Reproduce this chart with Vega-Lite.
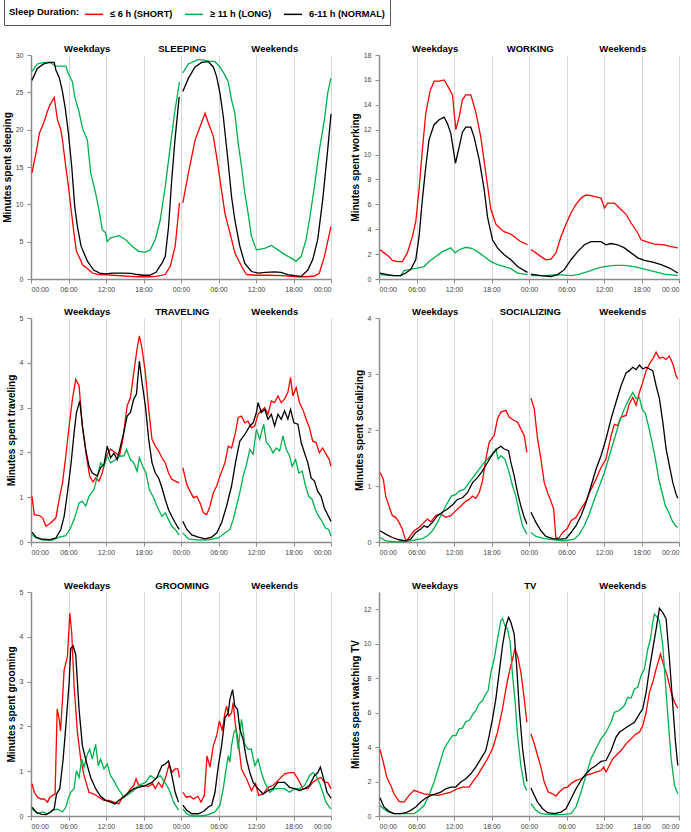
{
"$schema":"https://vega.github.io/schema/vega-lite/v6.json",
"padding":{"left":2,"top":-2,"right":0,"bottom":0},
"autosize":{"type":"pad"},
"background":"white",
"config":{
 "font":"Liberation Sans",
 "view":{"stroke":null},
 "axis":{"domainColor":"#8c8c8c","tickColor":"#8c8c8c","tickSize":4,"labelColor":"#444444","labelFontSize":7,"titleFontSize":10,"titleFontWeight":"bold","titleColor":"#000000","gridColor":"#d9d9d9","labelOverlap":false},
 "axisX":{"grid":true,"labelPadding":2,"domainWidth":1.5},
 "axisY":{"grid":false,"labelPadding":4,"titlePadding":3,"domainWidth":1.5},
 "legend":{"orient":"none","legendX":-27,"legendY":-56,"direction":"horizontal","titleOrient":"left","titleBaseline":"middle","titleFontSize":9.5,"titleFontWeight":"bold","titleColor":"#000000","titlePadding":4,"labelFontSize":9.3,"labelFontWeight":"bold","labelColor":"#000000","symbolType":"stroke","symbolSize":324,"symbolStrokeWidth":1.5,"labelOffset":6,"columnPadding":9,"strokeColor":"#555555","padding":5}
},
"datasets":{
"sl0":[
{"g":"S","h":0.16,"v":14.2},{"g":"S","h":1.01,"v":17.8},{"g":"S","h":1.33,"v":19.5},{"g":"S","h":2.02,"v":20.9},{"g":"S","h":2.65,"v":22.5},{"g":"S","h":3.02,"v":23.3},{"g":"S","h":3.71,"v":24.3},{"g":"S","h":4.24,"v":21.3},{"g":"S","h":4.77,"v":20.0},{"g":"S","h":5.04,"v":18.6},{"g":"S","h":5.57,"v":15.0},{"g":"S","h":5.99,"v":12.4},{"g":"S","h":6.36,"v":9.7},{"g":"S","h":7.0,"v":5.3},{"g":"S","h":7.27,"v":3.7},{"g":"S","h":8.01,"v":2.4},{"g":"S","h":8.22,"v":1.9},{"g":"S","h":9.02,"v":1.4},{"g":"S","h":9.81,"v":0.8},{"g":"S","h":10.87,"v":0.6},{"g":"S","h":12.04,"v":0.55},{"g":"S","h":13.0,"v":0.5},{"g":"S","h":14.0,"v":0.45},{"g":"S","h":15.0,"v":0.4},{"g":"S","h":16.0,"v":0.35},{"g":"S","h":17.0,"v":0.3},{"g":"S","h":18.83,"v":0.3},{"g":"S","h":20.0,"v":0.35},{"g":"S","h":21.48,"v":0.6},{"g":"S","h":22.28,"v":1.7},{"g":"S","h":23.07,"v":4.4},{"g":"S","h":23.76,"v":10.2},
{"g":"L","h":0.16,"v":27.8},{"g":"L","h":1.01,"v":28.8},{"g":"L","h":2.02,"v":29.0},{"g":"L","h":3.02,"v":29.0},{"g":"L","h":3.98,"v":28.5},{"g":"L","h":4.99,"v":28.5},{"g":"L","h":5.57,"v":28.5},{"g":"L","h":5.99,"v":27.5},{"g":"L","h":6.63,"v":26.4},{"g":"L","h":7.0,"v":24.4},{"g":"L","h":7.69,"v":22.4},{"g":"L","h":8.22,"v":20.2},{"g":"L","h":9.02,"v":18.6},{"g":"L","h":9.55,"v":14.2},{"g":"L","h":10.34,"v":11.5},{"g":"L","h":10.87,"v":9.3},{"g":"L","h":11.4,"v":6.6},{"g":"L","h":11.93,"v":6.2},{"g":"L","h":12.2,"v":5.0},{"g":"L","h":12.73,"v":5.5},{"g":"L","h":14.06,"v":5.8},{"g":"L","h":15.12,"v":5.3},{"g":"L","h":16.18,"v":4.4},{"g":"L","h":17.24,"v":3.7},{"g":"L","h":18.3,"v":3.6},{"g":"L","h":19.09,"v":3.9},{"g":"L","h":19.89,"v":5.3},{"g":"L","h":20.68,"v":7.9},{"g":"L","h":21.48,"v":12.4},{"g":"L","h":22.28,"v":17.7},{"g":"L","h":22.97,"v":22.2},{"g":"L","h":23.76,"v":26.4},
{"g":"N","h":0.16,"v":26.6},{"g":"N","h":1.01,"v":28.2},{"g":"N","h":2.02,"v":28.8},{"g":"N","h":3.02,"v":29.0},{"g":"N","h":3.71,"v":29.0},{"g":"N","h":3.98,"v":28.0},{"g":"N","h":4.51,"v":27.0},{"g":"N","h":4.99,"v":25.3},{"g":"N","h":5.46,"v":23.0},{"g":"N","h":5.99,"v":19.5},{"g":"N","h":6.52,"v":15.0},{"g":"N","h":7.0,"v":9.7},{"g":"N","h":7.43,"v":7.0},{"g":"N","h":8.01,"v":4.4},{"g":"N","h":9.02,"v":2.4},{"g":"N","h":10.02,"v":1.2},{"g":"N","h":11.0,"v":0.8},{"g":"N","h":12.0,"v":0.7},{"g":"N","h":13.0,"v":0.8},{"g":"N","h":14.5,"v":0.8},{"g":"N","h":16.0,"v":0.75},{"g":"N","h":17.0,"v":0.6},{"g":"N","h":18.0,"v":0.5},{"g":"N","h":19.0,"v":0.5},{"g":"N","h":20.0,"v":0.9},{"g":"N","h":21.0,"v":2.2},{"g":"N","h":21.48,"v":3.0},{"g":"N","h":22.01,"v":7.0},{"g":"N","h":22.49,"v":13.0},{"g":"N","h":23.02,"v":18.5},{"g":"N","h":23.71,"v":24.4}
],
"sl1":[
{"g":"S","h":24.29,"v":10.2},{"g":"S","h":25.19,"v":14.2},{"g":"S","h":26.25,"v":18.6},{"g":"S","h":27.05,"v":20.4},{"g":"S","h":27.85,"v":22.2},{"g":"S","h":28.38,"v":20.9},{"g":"S","h":29.17,"v":19.1},{"g":"S","h":29.7,"v":16.4},{"g":"S","h":30.23,"v":13.3},{"g":"S","h":31.03,"v":8.8},{"g":"S","h":31.82,"v":6.2},{"g":"S","h":32.62,"v":3.5},{"g":"S","h":33.68,"v":1.7},{"g":"S","h":34.48,"v":0.6},{"g":"S","h":36.0,"v":0.5},{"g":"S","h":38.0,"v":0.5},{"g":"S","h":40.0,"v":0.45},{"g":"S","h":42.7,"v":0.3},{"g":"S","h":44.0,"v":0.3},{"g":"S","h":45.35,"v":0.4},{"g":"S","h":46.14,"v":0.8},{"g":"S","h":46.94,"v":3.0},{"g":"S","h":48.0,"v":7.0},
{"g":"L","h":24.29,"v":27.6},{"g":"L","h":25.19,"v":28.8},{"g":"L","h":26.78,"v":29.4},{"g":"L","h":28.38,"v":29.2},{"g":"L","h":29.44,"v":29.1},{"g":"L","h":30.23,"v":28.4},{"g":"L","h":31.03,"v":27.3},{"g":"L","h":31.56,"v":26.4},{"g":"L","h":32.09,"v":24.0},{"g":"L","h":32.62,"v":22.2},{"g":"L","h":33.15,"v":18.2},{"g":"L","h":33.68,"v":15.1},{"g":"L","h":34.21,"v":11.5},{"g":"L","h":34.74,"v":8.8},{"g":"L","h":35.27,"v":5.7},{"g":"L","h":36.07,"v":3.9},{"g":"L","h":37.39,"v":4.1},{"g":"L","h":38.45,"v":4.5},{"g":"L","h":39.51,"v":3.9},{"g":"L","h":40.57,"v":3.3},{"g":"L","h":41.64,"v":2.8},{"g":"L","h":42.43,"v":2.4},{"g":"L","h":43.23,"v":3.0},{"g":"L","h":44.02,"v":5.3},{"g":"L","h":44.55,"v":7.9},{"g":"L","h":45.35,"v":12.4},{"g":"L","h":46.14,"v":17.3},{"g":"L","h":46.94,"v":21.3},{"g":"L","h":47.47,"v":24.9},{"g":"L","h":48.0,"v":26.9},
{"g":"N","h":24.29,"v":25.1},{"g":"N","h":25.19,"v":26.9},{"g":"N","h":26.25,"v":28.4},{"g":"N","h":27.31,"v":29.0},{"g":"N","h":28.38,"v":29.1},{"g":"N","h":29.17,"v":28.4},{"g":"N","h":29.7,"v":27.1},{"g":"N","h":30.23,"v":24.9},{"g":"N","h":30.76,"v":21.8},{"g":"N","h":31.56,"v":15.5},{"g":"N","h":32.09,"v":11.0},{"g":"N","h":32.62,"v":7.9},{"g":"N","h":33.41,"v":4.4},{"g":"N","h":34.21,"v":2.1},{"g":"N","h":35.27,"v":1.0},{"g":"N","h":36.33,"v":0.8},{"g":"N","h":37.5,"v":0.9},{"g":"N","h":39.0,"v":0.95},{"g":"N","h":40.0,"v":0.9},{"g":"N","h":41.1,"v":0.6},{"g":"N","h":42.17,"v":0.45},{"g":"N","h":43.23,"v":0.35},{"g":"N","h":44.29,"v":1.2},{"g":"N","h":45.08,"v":2.6},{"g":"N","h":45.88,"v":5.3},{"g":"N","h":46.67,"v":10.6},{"g":"N","h":47.47,"v":17.3},{"g":"N","h":48.0,"v":22.1}
],
"wk0":[
{"g":"S","h":0.16,"v":2.35},{"g":"S","h":0.8,"v":2.1},{"g":"S","h":1.6,"v":1.8},{"g":"S","h":2.14,"v":1.5},{"g":"S","h":2.94,"v":1.4},{"g":"S","h":3.74,"v":1.4},{"g":"S","h":4.54,"v":2.1},{"g":"S","h":5.34,"v":3.4},{"g":"S","h":5.88,"v":4.6},{"g":"S","h":6.41,"v":7.2},{"g":"S","h":6.94,"v":10.4},{"g":"S","h":7.48,"v":13.3},{"g":"S","h":8.17,"v":15.1},{"g":"S","h":8.81,"v":15.9},{"g":"S","h":9.62,"v":15.9},{"g":"S","h":10.42,"v":16.0},{"g":"S","h":11.22,"v":15.3},{"g":"S","h":11.75,"v":14.8},{"g":"S","h":12.29,"v":12.0},{"g":"S","h":12.82,"v":13.0},{"g":"S","h":13.35,"v":14.4},{"g":"S","h":13.89,"v":14.8},{"g":"S","h":14.69,"v":14.8},{"g":"S","h":15.49,"v":13.4},{"g":"S","h":16.29,"v":11.4},{"g":"S","h":17.09,"v":8.5},{"g":"S","h":17.9,"v":5.6},{"g":"S","h":18.7,"v":4.4},{"g":"S","h":19.5,"v":4.0},{"g":"S","h":20.03,"v":3.8},{"g":"S","h":21.1,"v":3.6},{"g":"S","h":21.9,"v":3.3},{"g":"S","h":22.7,"v":3.0},{"g":"S","h":23.77,"v":2.75},
{"g":"L","h":0.16,"v":0.35},{"g":"L","h":1.87,"v":0.27},{"g":"L","h":3.47,"v":0.27},{"g":"L","h":4.01,"v":0.67},{"g":"L","h":5.07,"v":0.8},{"g":"L","h":6.14,"v":0.88},{"g":"L","h":7.21,"v":1.0},{"g":"L","h":8.01,"v":1.4},{"g":"L","h":9.08,"v":1.8},{"g":"L","h":10.15,"v":2.2},{"g":"L","h":11.49,"v":2.5},{"g":"L","h":12.18,"v":2.1},{"g":"L","h":12.82,"v":2.35},{"g":"L","h":13.89,"v":2.55},{"g":"L","h":14.96,"v":2.45},{"g":"L","h":15.76,"v":2.2},{"g":"L","h":16.83,"v":1.8},{"g":"L","h":17.9,"v":1.4},{"g":"L","h":18.96,"v":1.15},{"g":"L","h":20.03,"v":1.0},{"g":"L","h":21.1,"v":0.83},{"g":"L","h":22.17,"v":0.48},{"g":"L","h":23.77,"v":0.35},
{"g":"N","h":0.16,"v":0.48},{"g":"N","h":1.34,"v":0.35},{"g":"N","h":2.4,"v":0.27},{"g":"N","h":3.47,"v":0.27},{"g":"N","h":4.27,"v":0.48},{"g":"N","h":5.07,"v":0.75},{"g":"N","h":5.88,"v":1.55},{"g":"N","h":6.41,"v":3.4},{"g":"N","h":6.94,"v":6.4},{"g":"N","h":7.48,"v":9.0},{"g":"N","h":8.01,"v":11.2},{"g":"N","h":8.81,"v":12.4},{"g":"N","h":9.62,"v":12.8},{"g":"N","h":10.42,"v":13.0},{"g":"N","h":10.95,"v":12.5},{"g":"N","h":11.49,"v":11.7},{"g":"N","h":12.23,"v":9.3},{"g":"N","h":12.82,"v":10.6},{"g":"N","h":13.35,"v":11.8},{"g":"N","h":13.89,"v":12.2},{"g":"N","h":14.69,"v":12.2},{"g":"N","h":15.22,"v":11.4},{"g":"N","h":16.03,"v":9.6},{"g":"N","h":16.83,"v":7.2},{"g":"N","h":17.36,"v":5.0},{"g":"N","h":18.16,"v":3.15},{"g":"N","h":18.96,"v":2.5},{"g":"N","h":20.03,"v":1.95},{"g":"N","h":21.1,"v":1.55},{"g":"N","h":22.17,"v":1.0},{"g":"N","h":23.24,"v":0.67},{"g":"N","h":23.77,"v":0.53}
],
"wk1":[
{"g":"S","h":24.31,"v":2.35},{"g":"S","h":25.11,"v":2.1},{"g":"S","h":25.91,"v":1.8},{"g":"S","h":26.71,"v":1.55},{"g":"S","h":27.51,"v":1.6},{"g":"S","h":28.31,"v":2.1},{"g":"S","h":29.11,"v":3.4},{"g":"S","h":29.91,"v":4.4},{"g":"S","h":30.72,"v":5.3},{"g":"S","h":31.52,"v":6.0},{"g":"S","h":32.32,"v":6.5},{"g":"S","h":33.12,"v":6.75},{"g":"S","h":33.92,"v":6.7},{"g":"S","h":34.72,"v":6.6},{"g":"S","h":35.52,"v":6.5},{"g":"S","h":36.06,"v":5.7},{"g":"S","h":36.59,"v":6.1},{"g":"S","h":37.66,"v":6.1},{"g":"S","h":38.46,"v":5.7},{"g":"S","h":39.53,"v":5.2},{"g":"S","h":40.33,"v":4.5},{"g":"S","h":41.4,"v":3.7},{"g":"S","h":41.93,"v":3.15},{"g":"S","h":42.74,"v":3.0},{"g":"S","h":44.07,"v":2.8},{"g":"S","h":45.67,"v":2.75},{"g":"S","h":46.74,"v":2.6},{"g":"S","h":47.81,"v":2.5},
{"g":"L","h":24.31,"v":0.27},{"g":"L","h":26.44,"v":0.27},{"g":"L","h":28.58,"v":0.35},{"g":"L","h":30.72,"v":0.27},{"g":"L","h":31.79,"v":0.35},{"g":"L","h":33.39,"v":0.6},{"g":"L","h":34.99,"v":0.88},{"g":"L","h":36.06,"v":1.0},{"g":"L","h":37.66,"v":1.1},{"g":"L","h":39.26,"v":1.1},{"g":"L","h":40.87,"v":1.0},{"g":"L","h":42.47,"v":0.8},{"g":"L","h":44.07,"v":0.6},{"g":"L","h":45.67,"v":0.4},{"g":"L","h":47.81,"v":0.27},
{"g":"N","h":24.31,"v":0.4},{"g":"N","h":25.91,"v":0.27},{"g":"N","h":27.51,"v":0.2},{"g":"N","h":28.58,"v":0.35},{"g":"N","h":29.65,"v":0.75},{"g":"N","h":30.72,"v":1.55},{"g":"N","h":31.79,"v":2.2},{"g":"N","h":32.85,"v":2.75},{"g":"N","h":33.92,"v":3.0},{"g":"N","h":35.52,"v":3.0},{"g":"N","h":36.32,"v":2.75},{"g":"N","h":37.13,"v":2.85},{"g":"N","h":38.19,"v":2.75},{"g":"N","h":39.26,"v":2.5},{"g":"N","h":40.33,"v":2.1},{"g":"N","h":41.4,"v":1.7},{"g":"N","h":42.47,"v":1.5},{"g":"N","h":43.8,"v":1.35},{"g":"N","h":45.14,"v":1.15},{"g":"N","h":46.47,"v":0.88},{"g":"N","h":47.81,"v":0.48}
],
"tr0":[
{"g":"S","h":0.16,"v":1.02},{"g":"S","h":0.53,"v":0.61},{"g":"S","h":1.33,"v":0.59},{"g":"S","h":1.86,"v":0.54},{"g":"S","h":2.39,"v":0.35},{"g":"S","h":3.18,"v":0.43},{"g":"S","h":3.98,"v":0.54},{"g":"S","h":4.51,"v":0.95},{"g":"S","h":5.04,"v":1.32},{"g":"S","h":5.57,"v":1.92},{"g":"S","h":6.1,"v":2.59},{"g":"S","h":6.63,"v":3.19},{"g":"S","h":7.16,"v":3.63},{"g":"S","h":7.69,"v":3.49},{"g":"S","h":8.22,"v":2.59},{"g":"S","h":8.86,"v":1.92},{"g":"S","h":9.39,"v":1.47},{"g":"S","h":9.92,"v":1.34},{"g":"S","h":10.34,"v":1.43},{"g":"S","h":10.87,"v":1.36},{"g":"S","h":11.4,"v":1.54},{"g":"S","h":12.04,"v":1.92},{"g":"S","h":12.73,"v":2.07},{"g":"S","h":13.52,"v":1.99},{"g":"S","h":14.16,"v":1.92},{"g":"S","h":14.69,"v":2.29},{"g":"S","h":15.38,"v":3.04},{"g":"S","h":15.91,"v":3.22},{"g":"S","h":16.44,"v":3.78},{"g":"S","h":16.97,"v":4.31},{"g":"S","h":17.34,"v":4.6},{"g":"S","h":17.77,"v":4.31},{"g":"S","h":18.3,"v":3.78},{"g":"S","h":18.83,"v":2.96},{"g":"S","h":19.36,"v":2.29},{"g":"S","h":19.89,"v":2.14},{"g":"S","h":20.42,"v":2.03},{"g":"S","h":20.95,"v":1.88},{"g":"S","h":21.48,"v":1.77},{"g":"S","h":22.01,"v":1.54},{"g":"S","h":22.54,"v":1.4},{"g":"S","h":23.07,"v":1.36},{"g":"S","h":23.71,"v":1.32},
{"g":"L","h":0.16,"v":0.16},{"g":"L","h":0.8,"v":0.09},{"g":"L","h":1.86,"v":0.04},{"g":"L","h":3.45,"v":0.04},{"g":"L","h":4.51,"v":0.11},{"g":"L","h":5.57,"v":0.14},{"g":"L","h":6.21,"v":0.28},{"g":"L","h":6.9,"v":0.5},{"g":"L","h":7.69,"v":0.87},{"g":"L","h":8.22,"v":0.91},{"g":"L","h":8.75,"v":0.8},{"g":"L","h":9.28,"v":1.02},{"g":"L","h":10.08,"v":1.17},{"g":"L","h":10.61,"v":1.47},{"g":"L","h":11.14,"v":1.77},{"g":"L","h":11.67,"v":1.69},{"g":"L","h":12.2,"v":1.92},{"g":"L","h":12.73,"v":1.77},{"g":"L","h":13.52,"v":1.84},{"g":"L","h":14.32,"v":1.92},{"g":"L","h":14.85,"v":1.92},{"g":"L","h":15.28,"v":2.07},{"g":"L","h":15.91,"v":1.84},{"g":"L","h":16.44,"v":1.77},{"g":"L","h":16.97,"v":1.58},{"g":"L","h":17.34,"v":1.88},{"g":"L","h":17.87,"v":1.69},{"g":"L","h":18.4,"v":1.54},{"g":"L","h":18.93,"v":1.17},{"g":"L","h":19.62,"v":0.99},{"g":"L","h":20.15,"v":0.8},{"g":"L","h":20.95,"v":0.57},{"g":"L","h":21.48,"v":0.65},{"g":"L","h":22.01,"v":0.5},{"g":"L","h":22.54,"v":0.35},{"g":"L","h":23.07,"v":0.28},{"g":"L","h":23.71,"v":0.16},
{"g":"N","h":0.16,"v":0.22},{"g":"N","h":0.8,"v":0.11},{"g":"N","h":1.59,"v":0.07},{"g":"N","h":2.92,"v":0.05},{"g":"N","h":3.98,"v":0.09},{"g":"N","h":4.77,"v":0.28},{"g":"N","h":5.3,"v":0.57},{"g":"N","h":5.83,"v":1.1},{"g":"N","h":6.36,"v":1.69},{"g":"N","h":6.9,"v":2.44},{"g":"N","h":7.27,"v":2.89},{"g":"N","h":7.8,"v":3.15},{"g":"N","h":8.22,"v":2.59},{"g":"N","h":8.75,"v":2.07},{"g":"N","h":9.28,"v":1.69},{"g":"N","h":9.81,"v":1.54},{"g":"N","h":10.61,"v":1.47},{"g":"N","h":11.14,"v":1.66},{"g":"N","h":11.67,"v":1.73},{"g":"N","h":12.2,"v":2.14},{"g":"N","h":12.73,"v":1.88},{"g":"N","h":13.26,"v":1.98},{"g":"N","h":13.79,"v":1.84},{"g":"N","h":14.32,"v":2.14},{"g":"N","h":14.85,"v":2.44},{"g":"N","h":15.38,"v":2.81},{"g":"N","h":15.91,"v":2.89},{"g":"N","h":16.44,"v":3.19},{"g":"N","h":16.87,"v":3.3},{"g":"N","h":17.34,"v":4.04},{"g":"N","h":17.77,"v":3.56},{"g":"N","h":18.3,"v":3.04},{"g":"N","h":18.83,"v":2.29},{"g":"N","h":19.36,"v":1.77},{"g":"N","h":19.89,"v":1.54},{"g":"N","h":20.42,"v":1.43},{"g":"N","h":20.95,"v":1.21},{"g":"N","h":21.48,"v":0.95},{"g":"N","h":22.01,"v":0.72},{"g":"N","h":22.54,"v":0.57},{"g":"N","h":23.07,"v":0.43},{"g":"N","h":23.71,"v":0.28}
],
"tr1":[
{"g":"S","h":24.29,"v":1.66},{"g":"S","h":24.93,"v":1.28},{"g":"S","h":25.46,"v":1.13},{"g":"S","h":25.99,"v":0.99},{"g":"S","h":26.52,"v":1.02},{"g":"S","h":27.05,"v":0.87},{"g":"S","h":27.58,"v":0.65},{"g":"S","h":28.11,"v":0.61},{"g":"S","h":28.64,"v":0.8},{"g":"S","h":29.17,"v":1.1},{"g":"S","h":29.7,"v":1.25},{"g":"S","h":30.23,"v":1.47},{"g":"S","h":31.03,"v":1.77},{"g":"S","h":31.56,"v":2.14},{"g":"S","h":32.09,"v":2.1},{"g":"S","h":32.72,"v":2.44},{"g":"S","h":33.15,"v":2.78},{"g":"S","h":33.68,"v":2.81},{"g":"S","h":34.21,"v":2.66},{"g":"S","h":34.74,"v":2.7},{"g":"S","h":35.27,"v":2.55},{"g":"S","h":35.8,"v":2.59},{"g":"S","h":36.33,"v":2.85},{"g":"S","h":36.86,"v":2.93},{"g":"S","h":37.39,"v":3.0},{"g":"S","h":37.92,"v":2.85},{"g":"S","h":38.45,"v":3.15},{"g":"S","h":38.98,"v":3.11},{"g":"S","h":39.51,"v":3.26},{"g":"S","h":40.04,"v":3.11},{"g":"S","h":40.57,"v":3.19},{"g":"S","h":41.1,"v":3.34},{"g":"S","h":41.53,"v":3.67},{"g":"S","h":41.9,"v":3.26},{"g":"S","h":42.43,"v":3.45},{"g":"S","h":42.96,"v":3.11},{"g":"S","h":43.49,"v":2.96},{"g":"S","h":44.02,"v":2.74},{"g":"S","h":44.55,"v":2.55},{"g":"S","h":45.08,"v":2.25},{"g":"S","h":45.61,"v":2.22},{"g":"S","h":46.14,"v":1.99},{"g":"S","h":46.67,"v":2.1},{"g":"S","h":47.2,"v":1.96},{"g":"S","h":47.73,"v":1.84},{"g":"S","h":48.0,"v":1.69},
{"g":"L","h":24.29,"v":0.2},{"g":"L","h":25.19,"v":0.07},{"g":"L","h":26.78,"v":0.04},{"g":"L","h":28.38,"v":0.05},{"g":"L","h":29.97,"v":0.09},{"g":"L","h":31.03,"v":0.2},{"g":"L","h":31.82,"v":0.28},{"g":"L","h":32.35,"v":0.5},{"g":"L","h":32.88,"v":0.8},{"g":"L","h":33.41,"v":1.1},{"g":"L","h":33.94,"v":1.47},{"g":"L","h":34.48,"v":1.73},{"g":"L","h":35.01,"v":2.07},{"g":"L","h":35.54,"v":1.96},{"g":"L","h":36.07,"v":2.52},{"g":"L","h":36.6,"v":2.29},{"g":"L","h":37.23,"v":2.63},{"g":"L","h":37.66,"v":2.22},{"g":"L","h":38.19,"v":2.14},{"g":"L","h":38.72,"v":1.99},{"g":"L","h":39.25,"v":2.1},{"g":"L","h":39.78,"v":2.03},{"g":"L","h":40.31,"v":2.37},{"g":"L","h":40.84,"v":2.07},{"g":"L","h":41.37,"v":1.92},{"g":"L","h":41.79,"v":1.69},{"g":"L","h":42.33,"v":1.84},{"g":"L","h":42.86,"v":1.54},{"g":"L","h":43.39,"v":1.58},{"g":"L","h":43.92,"v":1.25},{"g":"L","h":44.45,"v":1.02},{"g":"L","h":44.98,"v":0.95},{"g":"L","h":45.51,"v":0.72},{"g":"L","h":46.04,"v":0.57},{"g":"L","h":46.57,"v":0.46},{"g":"L","h":47.1,"v":0.31},{"g":"L","h":47.63,"v":0.28},{"g":"L","h":48.0,"v":0.13},
{"g":"N","h":24.29,"v":0.46},{"g":"N","h":24.93,"v":0.28},{"g":"N","h":25.72,"v":0.16},{"g":"N","h":26.78,"v":0.11},{"g":"N","h":27.85,"v":0.07},{"g":"N","h":28.91,"v":0.11},{"g":"N","h":29.7,"v":0.2},{"g":"N","h":30.5,"v":0.43},{"g":"N","h":31.29,"v":0.8},{"g":"N","h":32.09,"v":1.25},{"g":"N","h":32.72,"v":1.77},{"g":"N","h":33.41,"v":2.25},{"g":"N","h":34.21,"v":2.4},{"g":"N","h":35.01,"v":2.59},{"g":"N","h":35.54,"v":2.66},{"g":"N","h":36.07,"v":2.89},{"g":"N","h":36.33,"v":3.11},{"g":"N","h":36.86,"v":2.89},{"g":"N","h":37.39,"v":2.96},{"g":"N","h":37.92,"v":2.74},{"g":"N","h":38.45,"v":2.85},{"g":"N","h":38.98,"v":2.59},{"g":"N","h":39.51,"v":2.85},{"g":"N","h":40.04,"v":2.74},{"g":"N","h":40.57,"v":2.93},{"g":"N","h":41.1,"v":2.74},{"g":"N","h":41.53,"v":2.96},{"g":"N","h":42.06,"v":2.66},{"g":"N","h":42.7,"v":2.63},{"g":"N","h":43.23,"v":2.22},{"g":"N","h":43.76,"v":1.99},{"g":"N","h":44.29,"v":1.77},{"g":"N","h":44.82,"v":1.43},{"g":"N","h":45.35,"v":1.36},{"g":"N","h":45.88,"v":1.13},{"g":"N","h":46.41,"v":1.02},{"g":"N","h":46.94,"v":0.76},{"g":"N","h":47.47,"v":0.61},{"g":"N","h":48.0,"v":0.46}
],
"so0":[
{"g":"S","h":0.16,"v":1.24},{"g":"S","h":0.69,"v":1.12},{"g":"S","h":1.07,"v":0.82},{"g":"S","h":1.6,"v":0.64},{"g":"S","h":2.14,"v":0.47},{"g":"S","h":2.67,"v":0.44},{"g":"S","h":3.21,"v":0.35},{"g":"S","h":3.74,"v":0.23},{"g":"S","h":4.11,"v":0.08},{"g":"S","h":4.38,"v":0.02},{"g":"S","h":4.81,"v":0.08},{"g":"S","h":5.61,"v":0.2},{"g":"S","h":6.41,"v":0.26},{"g":"S","h":7.21,"v":0.35},{"g":"S","h":7.75,"v":0.41},{"g":"S","h":8.28,"v":0.36},{"g":"S","h":9.08,"v":0.47},{"g":"S","h":9.88,"v":0.5},{"g":"S","h":10.68,"v":0.44},{"g":"S","h":11.49,"v":0.47},{"g":"S","h":12.29,"v":0.56},{"g":"S","h":13.09,"v":0.64},{"g":"S","h":13.89,"v":0.73},{"g":"S","h":14.42,"v":0.76},{"g":"S","h":14.96,"v":0.82},{"g":"S","h":15.49,"v":0.78},{"g":"S","h":16.03,"v":0.88},{"g":"S","h":16.56,"v":1.09},{"g":"S","h":17.09,"v":1.48},{"g":"S","h":17.63,"v":1.78},{"g":"S","h":18.43,"v":1.9},{"g":"S","h":18.96,"v":2.2},{"g":"S","h":19.5,"v":2.32},{"g":"S","h":20.3,"v":2.35},{"g":"S","h":20.83,"v":2.23},{"g":"S","h":21.63,"v":2.17},{"g":"S","h":22.17,"v":2.14},{"g":"S","h":22.7,"v":2.02},{"g":"S","h":23.24,"v":1.9},{"g":"S","h":23.66,"v":1.6},
{"g":"L","h":0.16,"v":0.08},{"g":"L","h":1.07,"v":0.02},{"g":"L","h":2.94,"v":0.0},{"g":"L","h":5.07,"v":0.02},{"g":"L","h":5.88,"v":0.04},{"g":"L","h":6.94,"v":0.06},{"g":"L","h":7.75,"v":0.11},{"g":"L","h":8.55,"v":0.2},{"g":"L","h":9.35,"v":0.35},{"g":"L","h":10.15,"v":0.53},{"g":"L","h":10.95,"v":0.7},{"g":"L","h":11.59,"v":0.82},{"g":"L","h":12.29,"v":0.85},{"g":"L","h":12.82,"v":0.91},{"g":"L","h":13.62,"v":0.94},{"g":"L","h":14.42,"v":1.06},{"g":"L","h":15.22,"v":1.18},{"g":"L","h":16.03,"v":1.3},{"g":"L","h":16.83,"v":1.42},{"g":"L","h":17.9,"v":1.54},{"g":"L","h":18.7,"v":1.66},{"g":"L","h":19.07,"v":1.48},{"g":"L","h":19.5,"v":1.54},{"g":"L","h":20.14,"v":1.48},{"g":"L","h":20.83,"v":1.24},{"g":"L","h":21.37,"v":1.0},{"g":"L","h":21.9,"v":0.82},{"g":"L","h":22.44,"v":0.53},{"g":"L","h":22.97,"v":0.29},{"g":"L","h":23.66,"v":0.14},
{"g":"N","h":0.16,"v":0.2},{"g":"N","h":1.07,"v":0.14},{"g":"N","h":2.14,"v":0.08},{"g":"N","h":3.21,"v":0.04},{"g":"N","h":4.27,"v":0.02},{"g":"N","h":5.07,"v":0.05},{"g":"N","h":5.88,"v":0.17},{"g":"N","h":6.68,"v":0.23},{"g":"N","h":7.21,"v":0.29},{"g":"N","h":7.75,"v":0.26},{"g":"N","h":8.55,"v":0.35},{"g":"N","h":9.35,"v":0.47},{"g":"N","h":10.15,"v":0.53},{"g":"N","h":10.95,"v":0.59},{"g":"N","h":11.75,"v":0.66},{"g":"N","h":12.55,"v":0.76},{"g":"N","h":13.35,"v":0.79},{"g":"N","h":14.16,"v":0.88},{"g":"N","h":14.96,"v":1.06},{"g":"N","h":15.76,"v":1.15},{"g":"N","h":16.56,"v":1.27},{"g":"N","h":17.36,"v":1.42},{"g":"N","h":18.16,"v":1.57},{"g":"N","h":18.96,"v":1.67},{"g":"N","h":19.5,"v":1.71},{"g":"N","h":20.03,"v":1.66},{"g":"N","h":20.73,"v":1.63},{"g":"N","h":21.1,"v":1.42},{"g":"N","h":21.63,"v":1.18},{"g":"N","h":22.17,"v":0.88},{"g":"N","h":22.7,"v":0.64},{"g":"N","h":23.24,"v":0.44},{"g":"N","h":23.66,"v":0.32}
],
"so1":[
{"g":"S","h":24.31,"v":2.57},{"g":"S","h":24.84,"v":2.38},{"g":"S","h":25.37,"v":1.84},{"g":"S","h":25.91,"v":1.48},{"g":"S","h":26.44,"v":1.06},{"g":"S","h":26.98,"v":0.88},{"g":"S","h":27.51,"v":0.73},{"g":"S","h":27.94,"v":0.59},{"g":"S","h":28.31,"v":0.06},{"g":"S","h":28.85,"v":0.08},{"g":"S","h":29.38,"v":0.17},{"g":"S","h":30.07,"v":0.23},{"g":"S","h":30.72,"v":0.38},{"g":"S","h":31.52,"v":0.44},{"g":"S","h":32.32,"v":0.59},{"g":"S","h":33.12,"v":0.73},{"g":"S","h":33.92,"v":0.94},{"g":"S","h":34.72,"v":1.12},{"g":"S","h":35.52,"v":1.33},{"g":"S","h":36.32,"v":1.48},{"g":"S","h":37.13,"v":1.9},{"g":"S","h":37.66,"v":2.1},{"g":"S","h":38.19,"v":2.08},{"g":"S","h":38.73,"v":2.23},{"g":"S","h":39.53,"v":2.26},{"g":"S","h":40.06,"v":2.47},{"g":"S","h":40.6,"v":2.58},{"g":"S","h":41.13,"v":2.44},{"g":"S","h":41.67,"v":2.67},{"g":"S","h":42.2,"v":2.85},{"g":"S","h":42.74,"v":3.06},{"g":"S","h":43.27,"v":3.18},{"g":"S","h":43.8,"v":3.27},{"g":"S","h":44.34,"v":3.39},{"g":"S","h":44.87,"v":3.28},{"g":"S","h":45.41,"v":3.3},{"g":"S","h":45.94,"v":3.26},{"g":"S","h":46.47,"v":3.32},{"g":"S","h":47.01,"v":3.18},{"g":"S","h":47.54,"v":2.97},{"g":"S","h":47.81,"v":2.91},
{"g":"L","h":24.31,"v":0.17},{"g":"L","h":25.11,"v":0.1},{"g":"L","h":26.44,"v":0.06},{"g":"L","h":28.04,"v":0.04},{"g":"L","h":29.65,"v":0.02},{"g":"L","h":31.25,"v":0.05},{"g":"L","h":32.05,"v":0.14},{"g":"L","h":32.85,"v":0.29},{"g":"L","h":33.65,"v":0.5},{"g":"L","h":34.46,"v":0.76},{"g":"L","h":35.26,"v":1.0},{"g":"L","h":36.06,"v":1.24},{"g":"L","h":36.86,"v":1.54},{"g":"L","h":37.66,"v":1.84},{"g":"L","h":38.46,"v":2.14},{"g":"L","h":39.26,"v":2.38},{"g":"L","h":40.06,"v":2.56},{"g":"L","h":40.6,"v":2.67},{"g":"L","h":41.13,"v":2.56},{"g":"L","h":41.67,"v":2.58},{"g":"L","h":42.09,"v":2.38},{"g":"L","h":42.63,"v":2.29},{"g":"L","h":43.16,"v":2.05},{"g":"L","h":43.7,"v":1.78},{"g":"L","h":44.23,"v":1.48},{"g":"L","h":44.76,"v":1.12},{"g":"L","h":45.3,"v":0.88},{"g":"L","h":45.83,"v":0.64},{"g":"L","h":46.37,"v":0.53},{"g":"L","h":46.9,"v":0.38},{"g":"L","h":47.44,"v":0.29},{"g":"L","h":47.81,"v":0.26},
{"g":"N","h":24.31,"v":0.53},{"g":"N","h":25.11,"v":0.35},{"g":"N","h":25.91,"v":0.2},{"g":"N","h":26.71,"v":0.1},{"g":"N","h":27.78,"v":0.06},{"g":"N","h":29.11,"v":0.05},{"g":"N","h":29.91,"v":0.06},{"g":"N","h":30.72,"v":0.17},{"g":"N","h":31.52,"v":0.29},{"g":"N","h":32.32,"v":0.47},{"g":"N","h":33.12,"v":0.7},{"g":"N","h":33.92,"v":1.0},{"g":"N","h":34.72,"v":1.3},{"g":"N","h":35.52,"v":1.54},{"g":"N","h":36.32,"v":1.84},{"g":"N","h":37.13,"v":2.2},{"g":"N","h":37.93,"v":2.5},{"g":"N","h":38.73,"v":2.79},{"g":"N","h":39.53,"v":3.02},{"g":"N","h":40.06,"v":3.06},{"g":"N","h":40.6,"v":3.12},{"g":"N","h":41.13,"v":3.08},{"g":"N","h":41.67,"v":3.16},{"g":"N","h":42.2,"v":3.09},{"g":"N","h":42.74,"v":3.12},{"g":"N","h":43.27,"v":3.09},{"g":"N","h":43.8,"v":3.06},{"g":"N","h":44.34,"v":2.79},{"g":"N","h":44.87,"v":2.56},{"g":"N","h":45.41,"v":2.14},{"g":"N","h":45.94,"v":1.66},{"g":"N","h":46.47,"v":1.36},{"g":"N","h":47.01,"v":1.06},{"g":"N","h":47.54,"v":0.85},{"g":"N","h":47.81,"v":0.78}
],
"gr0":[
{"g":"S","h":0.16,"v":0.72},{"g":"S","h":0.53,"v":0.53},{"g":"S","h":1.06,"v":0.42},{"g":"S","h":1.59,"v":0.38},{"g":"S","h":2.12,"v":0.38},{"g":"S","h":2.65,"v":0.31},{"g":"S","h":3.02,"v":0.42},{"g":"S","h":3.45,"v":0.46},{"g":"S","h":3.85,"v":0.49},{"g":"S","h":4.19,"v":2.39},{"g":"S","h":4.51,"v":2.16},{"g":"S","h":4.72,"v":1.9},{"g":"S","h":5.04,"v":2.6},{"g":"S","h":5.3,"v":3.26},{"g":"S","h":5.57,"v":3.41},{"g":"S","h":5.83,"v":3.56},{"g":"S","h":6.21,"v":4.53},{"g":"S","h":6.52,"v":4.08},{"g":"S","h":6.9,"v":2.9},{"g":"S","h":7.43,"v":1.86},{"g":"S","h":7.96,"v":1.27},{"g":"S","h":8.49,"v":0.9},{"g":"S","h":9.28,"v":0.53},{"g":"S","h":10.08,"v":0.49},{"g":"S","h":10.87,"v":0.42},{"g":"S","h":11.67,"v":0.35},{"g":"S","h":12.46,"v":0.35},{"g":"S","h":13.26,"v":0.31},{"g":"S","h":14.06,"v":0.27},{"g":"S","h":14.59,"v":0.42},{"g":"S","h":15.38,"v":0.49},{"g":"S","h":15.91,"v":0.61},{"g":"S","h":16.44,"v":0.68},{"g":"S","h":16.81,"v":0.83},{"g":"S","h":17.24,"v":0.68},{"g":"S","h":18.03,"v":0.68},{"g":"S","h":18.83,"v":0.66},{"g":"S","h":19.47,"v":0.72},{"g":"S","h":19.89,"v":0.61},{"g":"S","h":20.42,"v":0.75},{"g":"S","h":20.95,"v":0.64},{"g":"S","h":21.48,"v":0.83},{"g":"S","h":21.75,"v":0.97},{"g":"S","h":22.12,"v":1.16},{"g":"S","h":22.54,"v":0.97},{"g":"S","h":23.07,"v":1.05},{"g":"S","h":23.5,"v":1.05},{"g":"S","h":23.76,"v":0.86},
{"g":"L","h":0.16,"v":0.16},{"g":"L","h":1.06,"v":0.05},{"g":"L","h":1.86,"v":0.09},{"g":"L","h":2.65,"v":0.05},{"g":"L","h":3.45,"v":0.13},{"g":"L","h":4.24,"v":0.15},{"g":"L","h":5.04,"v":0.09},{"g":"L","h":5.57,"v":0.2},{"g":"L","h":5.99,"v":0.4},{"g":"L","h":6.36,"v":0.53},{"g":"L","h":6.9,"v":0.61},{"g":"L","h":7.27,"v":1.01},{"g":"L","h":7.69,"v":0.86},{"g":"L","h":8.11,"v":1.27},{"g":"L","h":8.49,"v":1.09},{"g":"L","h":9.02,"v":1.38},{"g":"L","h":9.39,"v":1.49},{"g":"L","h":9.81,"v":1.27},{"g":"L","h":10.34,"v":1.6},{"g":"L","h":10.77,"v":1.12},{"g":"L","h":11.14,"v":1.27},{"g":"L","h":11.67,"v":1.05},{"g":"L","h":12.2,"v":1.16},{"g":"L","h":12.73,"v":0.9},{"g":"L","h":13.26,"v":0.79},{"g":"L","h":13.79,"v":0.64},{"g":"L","h":14.32,"v":0.53},{"g":"L","h":14.85,"v":0.42},{"g":"L","h":15.65,"v":0.49},{"g":"L","h":16.44,"v":0.57},{"g":"L","h":17.24,"v":0.68},{"g":"L","h":18.3,"v":0.75},{"g":"L","h":19.09,"v":0.9},{"g":"L","h":19.89,"v":0.83},{"g":"L","h":20.68,"v":0.9},{"g":"L","h":21.22,"v":0.79},{"g":"L","h":21.75,"v":0.68},{"g":"L","h":22.28,"v":0.53},{"g":"L","h":22.81,"v":0.31},{"g":"L","h":23.6,"v":0.13},
{"g":"N","h":0.16,"v":0.2},{"g":"N","h":0.8,"v":0.09},{"g":"N","h":1.59,"v":0.04},{"g":"N","h":2.39,"v":0.03},{"g":"N","h":3.18,"v":0.09},{"g":"N","h":3.71,"v":0.16},{"g":"N","h":4.08,"v":0.49},{"g":"N","h":4.61,"v":0.61},{"g":"N","h":5.14,"v":1.27},{"g":"N","h":5.57,"v":2.0},{"g":"N","h":6.1,"v":2.97},{"g":"N","h":6.36,"v":3.74},{"g":"N","h":6.74,"v":3.8},{"g":"N","h":7.16,"v":3.6},{"g":"N","h":7.69,"v":2.38},{"g":"N","h":8.22,"v":1.57},{"g":"N","h":8.86,"v":1.2},{"g":"N","h":9.55,"v":0.86},{"g":"N","h":10.34,"v":0.61},{"g":"N","h":11.14,"v":0.44},{"g":"N","h":11.93,"v":0.35},{"g":"N","h":12.73,"v":0.31},{"g":"N","h":13.42,"v":0.27},{"g":"N","h":14.06,"v":0.35},{"g":"N","h":14.85,"v":0.42},{"g":"N","h":15.65,"v":0.53},{"g":"N","h":16.44,"v":0.61},{"g":"N","h":17.24,"v":0.64},{"g":"N","h":18.3,"v":0.68},{"g":"N","h":19.36,"v":0.75},{"g":"N","h":20.15,"v":0.86},{"g":"N","h":20.95,"v":1.12},{"g":"N","h":21.48,"v":1.16},{"g":"N","h":22.01,"v":1.23},{"g":"N","h":22.54,"v":0.9},{"g":"N","h":23.07,"v":0.53},{"g":"N","h":23.6,"v":0.31}
],
"gr1":[
{"g":"S","h":24.29,"v":0.53},{"g":"S","h":24.82,"v":0.42},{"g":"S","h":25.46,"v":0.44},{"g":"S","h":25.99,"v":0.38},{"g":"S","h":26.68,"v":0.44},{"g":"S","h":27.21,"v":0.31},{"g":"S","h":27.74,"v":0.46},{"g":"S","h":28.16,"v":1.34},{"g":"S","h":28.64,"v":1.09},{"g":"S","h":29.17,"v":1.57},{"g":"S","h":29.7,"v":1.79},{"g":"S","h":30.13,"v":2.12},{"g":"S","h":30.6,"v":1.9},{"g":"S","h":31.03,"v":2.3},{"g":"S","h":31.29,"v":2.45},{"g":"S","h":31.66,"v":2.23},{"g":"S","h":32.09,"v":2.3},{"g":"S","h":32.35,"v":2.53},{"g":"S","h":32.72,"v":2.01},{"g":"S","h":33.15,"v":1.68},{"g":"S","h":33.68,"v":1.05},{"g":"S","h":34.48,"v":0.83},{"g":"S","h":35.27,"v":0.57},{"g":"S","h":35.91,"v":0.72},{"g":"S","h":36.44,"v":0.46},{"g":"S","h":37.13,"v":0.49},{"g":"S","h":37.92,"v":0.64},{"g":"S","h":38.72,"v":0.68},{"g":"S","h":39.51,"v":0.79},{"g":"S","h":40.57,"v":0.94},{"g":"S","h":41.37,"v":0.97},{"g":"S","h":42.06,"v":0.97},{"g":"S","h":42.7,"v":0.83},{"g":"S","h":43.49,"v":0.61},{"g":"S","h":44.29,"v":0.61},{"g":"S","h":45.08,"v":0.75},{"g":"S","h":45.88,"v":0.83},{"g":"S","h":46.41,"v":0.86},{"g":"S","h":46.94,"v":0.75},{"g":"S","h":47.47,"v":0.75},{"g":"S","h":48.0,"v":0.61},
{"g":"L","h":24.29,"v":0.16},{"g":"L","h":24.93,"v":0.05},{"g":"L","h":25.72,"v":0.0},{"g":"L","h":27.31,"v":0.0},{"g":"L","h":28.38,"v":0.03},{"g":"L","h":29.44,"v":0.09},{"g":"L","h":30.23,"v":0.24},{"g":"L","h":30.76,"v":0.61},{"g":"L","h":31.13,"v":0.97},{"g":"L","h":31.56,"v":1.34},{"g":"L","h":31.82,"v":1.2},{"g":"L","h":32.09,"v":1.57},{"g":"L","h":32.46,"v":1.86},{"g":"L","h":32.78,"v":1.94},{"g":"L","h":33.15,"v":1.49},{"g":"L","h":33.68,"v":2.16},{"g":"L","h":34.21,"v":1.6},{"g":"L","h":34.74,"v":1.49},{"g":"L","h":35.27,"v":1.49},{"g":"L","h":35.8,"v":1.12},{"g":"L","h":36.33,"v":1.27},{"g":"L","h":36.86,"v":0.97},{"g":"L","h":37.39,"v":0.75},{"g":"L","h":38.19,"v":0.53},{"g":"L","h":38.98,"v":0.61},{"g":"L","h":39.78,"v":0.61},{"g":"L","h":40.57,"v":0.61},{"g":"L","h":41.37,"v":0.53},{"g":"L","h":42.17,"v":0.61},{"g":"L","h":42.96,"v":0.61},{"g":"L","h":43.76,"v":0.68},{"g":"L","h":44.55,"v":0.9},{"g":"L","h":45.08,"v":0.97},{"g":"L","h":45.61,"v":0.9},{"g":"L","h":46.14,"v":0.75},{"g":"L","h":46.67,"v":0.53},{"g":"L","h":47.2,"v":0.31},{"g":"L","h":47.73,"v":0.2},{"g":"L","h":48.0,"v":0.16},
{"g":"N","h":24.29,"v":0.24},{"g":"N","h":24.93,"v":0.13},{"g":"N","h":25.72,"v":0.05},{"g":"N","h":26.78,"v":0.05},{"g":"N","h":27.58,"v":0.1},{"g":"N","h":28.38,"v":0.2},{"g":"N","h":28.91,"v":0.24},{"g":"N","h":29.44,"v":0.53},{"g":"N","h":29.97,"v":1.12},{"g":"N","h":30.5,"v":1.57},{"g":"N","h":31.03,"v":2.19},{"g":"N","h":31.56,"v":2.3},{"g":"N","h":31.82,"v":2.6},{"g":"N","h":32.25,"v":2.82},{"g":"N","h":32.62,"v":2.45},{"g":"N","h":33.04,"v":2.38},{"g":"N","h":33.41,"v":1.94},{"g":"N","h":33.94,"v":1.71},{"g":"N","h":34.48,"v":1.27},{"g":"N","h":35.01,"v":0.97},{"g":"N","h":35.54,"v":0.75},{"g":"N","h":36.33,"v":0.61},{"g":"N","h":37.13,"v":0.49},{"g":"N","h":37.92,"v":0.57},{"g":"N","h":38.72,"v":0.61},{"g":"N","h":39.51,"v":0.75},{"g":"N","h":40.57,"v":0.75},{"g":"N","h":41.37,"v":0.64},{"g":"N","h":42.17,"v":0.61},{"g":"N","h":42.96,"v":0.57},{"g":"N","h":43.76,"v":0.61},{"g":"N","h":44.55,"v":0.68},{"g":"N","h":45.35,"v":0.9},{"g":"N","h":45.88,"v":0.97},{"g":"N","h":46.3,"v":1.09},{"g":"N","h":46.83,"v":0.83},{"g":"N","h":47.36,"v":0.53},{"g":"N","h":48.0,"v":0.4}
],
"tv0":[
{"g":"S","h":0.16,"v":3.86},{"g":"S","h":0.69,"v":3.13},{"g":"S","h":1.23,"v":2.26},{"g":"S","h":1.87,"v":1.78},{"g":"S","h":2.4,"v":1.29},{"g":"S","h":3.21,"v":0.85},{"g":"S","h":4.01,"v":0.81},{"g":"S","h":4.81,"v":1.2},{"g":"S","h":5.61,"v":1.49},{"g":"S","h":6.41,"v":1.39},{"g":"S","h":7.21,"v":1.29},{"g":"S","h":8.28,"v":1.24},{"g":"S","h":9.35,"v":1.2},{"g":"S","h":10.42,"v":1.29},{"g":"S","h":11.49,"v":1.39},{"g":"S","h":12.55,"v":1.58},{"g":"S","h":13.35,"v":1.68},{"g":"S","h":14.42,"v":1.68},{"g":"S","h":14.96,"v":1.97},{"g":"S","h":15.76,"v":2.36},{"g":"S","h":16.56,"v":2.84},{"g":"S","h":17.36,"v":3.32},{"g":"S","h":18.16,"v":3.9},{"g":"S","h":18.96,"v":4.86},{"g":"S","h":19.76,"v":6.22},{"g":"S","h":20.3,"v":7.37},{"g":"S","h":20.83,"v":8.34},{"g":"S","h":21.37,"v":9.11},{"g":"S","h":21.74,"v":9.69},{"g":"S","h":22.17,"v":9.31},{"g":"S","h":22.7,"v":8.34},{"g":"S","h":23.24,"v":6.8},{"g":"S","h":23.66,"v":5.44},
{"g":"L","h":0.16,"v":0.62},{"g":"L","h":0.8,"v":0.39},{"g":"L","h":1.6,"v":0.23},{"g":"L","h":2.4,"v":0.14},{"g":"L","h":3.47,"v":0.14},{"g":"L","h":4.54,"v":0.14},{"g":"L","h":5.61,"v":0.14},{"g":"L","h":6.41,"v":0.33},{"g":"L","h":7.21,"v":0.62},{"g":"L","h":8.01,"v":1.2},{"g":"L","h":8.81,"v":1.97},{"g":"L","h":9.62,"v":2.93},{"g":"L","h":10.42,"v":3.9},{"g":"L","h":11.22,"v":4.38},{"g":"L","h":11.75,"v":4.67},{"g":"L","h":12.29,"v":4.67},{"g":"L","h":12.82,"v":5.06},{"g":"L","h":13.35,"v":5.1},{"g":"L","h":13.89,"v":5.48},{"g":"L","h":14.42,"v":5.54},{"g":"L","h":14.96,"v":5.87},{"g":"L","h":15.49,"v":6.12},{"g":"L","h":16.03,"v":6.51},{"g":"L","h":16.56,"v":6.7},{"g":"L","h":17.09,"v":7.08},{"g":"L","h":17.47,"v":7.28},{"g":"L","h":17.9,"v":8.34},{"g":"L","h":18.43,"v":9.11},{"g":"L","h":18.96,"v":10.27},{"g":"L","h":19.5,"v":11.33},{"g":"L","h":19.76,"v":11.47},{"g":"L","h":20.14,"v":11.04},{"g":"L","h":20.57,"v":10.85},{"g":"L","h":20.99,"v":10.08},{"g":"L","h":21.37,"v":8.15},{"g":"L","h":21.74,"v":6.8},{"g":"L","h":22.17,"v":4.67},{"g":"L","h":22.7,"v":2.93},{"g":"L","h":23.24,"v":1.78},{"g":"L","h":23.66,"v":1.49},
{"g":"N","h":0.16,"v":1.06},{"g":"N","h":0.8,"v":0.52},{"g":"N","h":1.6,"v":0.27},{"g":"N","h":2.4,"v":0.14},{"g":"N","h":3.47,"v":0.14},{"g":"N","h":4.27,"v":0.19},{"g":"N","h":5.07,"v":0.33},{"g":"N","h":5.88,"v":0.52},{"g":"N","h":6.68,"v":0.81},{"g":"N","h":7.48,"v":1.04},{"g":"N","h":8.28,"v":1.2},{"g":"N","h":9.08,"v":1.29},{"g":"N","h":9.88,"v":1.39},{"g":"N","h":10.68,"v":1.58},{"g":"N","h":11.49,"v":1.68},{"g":"N","h":12.29,"v":1.68},{"g":"N","h":13.09,"v":1.97},{"g":"N","h":13.89,"v":2.16},{"g":"N","h":14.69,"v":2.45},{"g":"N","h":15.49,"v":2.84},{"g":"N","h":16.29,"v":3.32},{"g":"N","h":17.09,"v":3.8},{"g":"N","h":17.63,"v":4.67},{"g":"N","h":18.16,"v":5.64},{"g":"N","h":18.7,"v":6.8},{"g":"N","h":19.23,"v":8.34},{"g":"N","h":19.76,"v":9.88},{"g":"N","h":20.3,"v":11.04},{"g":"N","h":20.73,"v":11.53},{"g":"N","h":21.1,"v":11.24},{"g":"N","h":21.63,"v":10.56},{"g":"N","h":22.06,"v":8.53},{"g":"N","h":22.44,"v":6.22},{"g":"N","h":22.97,"v":3.9},{"g":"N","h":23.66,"v":2.0}
],
"tv1":[
{"g":"S","h":24.31,"v":4.77},{"g":"S","h":24.84,"v":4.19},{"g":"S","h":25.37,"v":3.51},{"g":"S","h":25.91,"v":2.84},{"g":"S","h":26.44,"v":1.97},{"g":"S","h":27.08,"v":1.39},{"g":"S","h":27.78,"v":1.29},{"g":"S","h":28.31,"v":1.16},{"g":"S","h":28.85,"v":1.39},{"g":"S","h":29.54,"v":1.62},{"g":"S","h":30.18,"v":1.68},{"g":"S","h":30.82,"v":1.91},{"g":"S","h":31.52,"v":2.07},{"g":"S","h":32.32,"v":2.16},{"g":"S","h":33.12,"v":2.36},{"g":"S","h":33.92,"v":2.45},{"g":"S","h":34.72,"v":2.55},{"g":"S","h":35.52,"v":2.64},{"g":"S","h":35.95,"v":2.84},{"g":"S","h":36.32,"v":2.55},{"g":"S","h":36.86,"v":2.93},{"g":"S","h":37.39,"v":3.32},{"g":"S","h":37.93,"v":3.51},{"g":"S","h":38.73,"v":3.8},{"g":"S","h":39.53,"v":4.19},{"g":"S","h":40.06,"v":4.38},{"g":"S","h":40.6,"v":4.58},{"g":"S","h":41.13,"v":4.77},{"g":"S","h":41.67,"v":4.86},{"g":"S","h":42.2,"v":5.25},{"g":"S","h":42.74,"v":6.02},{"g":"S","h":43.27,"v":7.18},{"g":"S","h":43.8,"v":7.76},{"g":"S","h":44.34,"v":8.53},{"g":"S","h":45.03,"v":9.4},{"g":"S","h":45.57,"v":8.73},{"g":"S","h":46.1,"v":8.15},{"g":"S","h":46.74,"v":7.18},{"g":"S","h":47.28,"v":6.6},{"g":"S","h":47.81,"v":6.25},
{"g":"L","h":24.31,"v":0.71},{"g":"L","h":25.11,"v":0.33},{"g":"L","h":25.91,"v":0.14},{"g":"L","h":27.51,"v":0.08},{"g":"L","h":29.11,"v":0.08},{"g":"L","h":30.72,"v":0.14},{"g":"L","h":31.52,"v":0.52},{"g":"L","h":32.32,"v":1.39},{"g":"L","h":33.12,"v":2.36},{"g":"L","h":33.92,"v":3.32},{"g":"L","h":34.72,"v":3.9},{"g":"L","h":35.52,"v":4.48},{"g":"L","h":36.32,"v":4.86},{"g":"L","h":37.13,"v":5.44},{"g":"L","h":37.66,"v":6.02},{"g":"L","h":38.46,"v":6.12},{"g":"L","h":39.26,"v":6.41},{"g":"L","h":39.8,"v":6.89},{"g":"L","h":40.33,"v":6.83},{"g":"L","h":40.87,"v":7.37},{"g":"L","h":41.4,"v":7.47},{"g":"L","h":41.93,"v":8.15},{"g":"L","h":42.47,"v":8.53},{"g":"L","h":43.0,"v":9.69},{"g":"L","h":43.43,"v":10.27},{"g":"L","h":43.8,"v":11.24},{"g":"L","h":44.07,"v":11.72},{"g":"L","h":44.5,"v":11.53},{"g":"L","h":44.87,"v":11.33},{"g":"L","h":45.41,"v":9.88},{"g":"L","h":45.78,"v":7.95},{"g":"L","h":46.21,"v":5.83},{"g":"L","h":46.74,"v":3.32},{"g":"L","h":47.28,"v":1.78},{"g":"L","h":47.81,"v":1.29},
{"g":"N","h":24.31,"v":1.62},{"g":"N","h":24.84,"v":1.2},{"g":"N","h":25.37,"v":0.81},{"g":"N","h":26.18,"v":0.42},{"g":"N","h":26.98,"v":0.19},{"g":"N","h":28.04,"v":0.14},{"g":"N","h":29.11,"v":0.23},{"g":"N","h":29.91,"v":0.42},{"g":"N","h":30.72,"v":1.0},{"g":"N","h":31.52,"v":1.58},{"g":"N","h":32.32,"v":2.07},{"g":"N","h":33.12,"v":2.45},{"g":"N","h":33.92,"v":2.74},{"g":"N","h":34.72,"v":2.93},{"g":"N","h":35.52,"v":3.17},{"g":"N","h":36.32,"v":3.22},{"g":"N","h":37.13,"v":3.8},{"g":"N","h":37.93,"v":4.58},{"g":"N","h":38.46,"v":4.86},{"g":"N","h":39.26,"v":5.06},{"g":"N","h":40.06,"v":5.25},{"g":"N","h":40.87,"v":5.44},{"g":"N","h":41.67,"v":5.93},{"g":"N","h":42.2,"v":6.22},{"g":"N","h":42.74,"v":7.18},{"g":"N","h":43.27,"v":8.53},{"g":"N","h":43.8,"v":9.69},{"g":"N","h":44.34,"v":10.85},{"g":"N","h":44.87,"v":12.05},{"g":"N","h":45.41,"v":11.81},{"g":"N","h":45.94,"v":11.43},{"g":"N","h":46.47,"v":9.11},{"g":"N","h":47.01,"v":6.41},{"g":"N","h":47.44,"v":4.29},{"g":"N","h":47.81,"v":2.93}
]
},
"spacing":26,
"vconcat":[
{"spacing":15,"vconcat":[
{"bounds":"flush","spacing":48,"hconcat":[
{"width":300,"height":224,"layer":[
{"data":{"name":"sl0"},"mark":{"type":"line","strokeWidth":1.3},"encoding":{"x":{"field":"h","type":"quantitative","scale":{"domain":[0,48],"nice":false,"zero":false},"axis":{"title":null,"tickCount":20,"values":[0,6,12,18,24,30,36,42,48],"labelExpr":"(datum.value % 24 < 10 ? '0' : '') + (datum.value % 24) + ':00'"}},"y":{"field":"v","type":"quantitative","scale":{"domain":[0,30],"nice":false},"axis":{"title":"Minutes spent sleeping","tickCount":20,"format":"d","values":[0,5,10,15,20,25,30]}},"color":{"field":"g","type":"nominal","scale":{"domain":["S","L","N"],"range":["#ff0000","#00b050","#000000"]},"legend":{"title":"Sleep Duration:","labelExpr":"datum.label == 'S' ? '≤ 6 h (SHORT)' : datum.label == 'L' ? '≥ 11 h (LONG)' : '6-11 h (NORMAL)'"}}}},
{"data":{"name":"sl1"},"mark":{"type":"line","strokeWidth":1.3},"encoding":{"x":{"field":"h","type":"quantitative"},"y":{"field":"v","type":"quantitative"},"color":{"field":"g","type":"nominal"}}},
{"data":{"values":[{"x":9,"t":"Weekdays"},{"x":24.2,"t":"SLEEPING"},{"x":39,"t":"Weekends"}]},"mark":{"type":"text","fontWeight":"bold","fontSize":9.5,"dy":-3,"baseline":"alphabetic","color":"#000000"},"encoding":{"x":{"field":"x","type":"quantitative"},"y":{"datum":30,"type":"quantitative"},"text":{"field":"t"}}}
]},
{"width":300,"height":224,"layer":[
{"data":{"name":"wk0"},"mark":{"type":"line","strokeWidth":1.3},"encoding":{"x":{"field":"h","type":"quantitative","scale":{"domain":[0,48],"nice":false,"zero":false},"axis":{"title":null,"tickCount":20,"values":[0,6,12,18,24,30,36,42,48],"labelExpr":"(datum.value % 24 < 10 ? '0' : '') + (datum.value % 24) + ':00'"}},"y":{"field":"v","type":"quantitative","scale":{"domain":[0,18],"nice":false},"axis":{"title":"Minutes spent working","tickCount":20,"format":"d","values":[0,2,4,6,8,10,12,14,16,18]}},"color":{"field":"g","type":"nominal"}}},
{"data":{"name":"wk1"},"mark":{"type":"line","strokeWidth":1.3},"encoding":{"x":{"field":"h","type":"quantitative"},"y":{"field":"v","type":"quantitative"},"color":{"field":"g","type":"nominal"}}},
{"data":{"values":[{"x":9,"t":"Weekdays"},{"x":24.2,"t":"WORKING"},{"x":39,"t":"Weekends"}]},"mark":{"type":"text","fontWeight":"bold","fontSize":9.5,"dy":-3,"baseline":"alphabetic","color":"#000000"},"encoding":{"x":{"field":"x","type":"quantitative"},"y":{"datum":18,"type":"quantitative"},"text":{"field":"t"}}}
]}
]},
{"bounds":"flush","spacing":48,"hconcat":[
{"width":300,"height":224,"layer":[
{"data":{"name":"tr0"},"mark":{"type":"line","strokeWidth":1.3},"encoding":{"x":{"field":"h","type":"quantitative","scale":{"domain":[0,48],"nice":false,"zero":false},"axis":{"title":null,"tickCount":20,"values":[0,6,12,18,24,30,36,42,48],"labelExpr":"(datum.value % 24 < 10 ? '0' : '') + (datum.value % 24) + ':00'"}},"y":{"field":"v","type":"quantitative","scale":{"domain":[0,5],"nice":false},"axis":{"title":"Minutes spent traveling","tickCount":20,"format":"d","values":[0,1,2,3,4,5]}},"color":{"field":"g","type":"nominal"}}},
{"data":{"name":"tr1"},"mark":{"type":"line","strokeWidth":1.3},"encoding":{"x":{"field":"h","type":"quantitative"},"y":{"field":"v","type":"quantitative"},"color":{"field":"g","type":"nominal"}}},
{"data":{"values":[{"x":9,"t":"Weekdays"},{"x":24.2,"t":"TRAVELING"},{"x":39,"t":"Weekends"}]},"mark":{"type":"text","fontWeight":"bold","fontSize":9.5,"dy":-3,"baseline":"alphabetic","color":"#000000"},"encoding":{"x":{"field":"x","type":"quantitative"},"y":{"datum":5,"type":"quantitative"},"text":{"field":"t"}}}
]},
{"width":300,"height":224,"layer":[
{"data":{"name":"so0"},"mark":{"type":"line","strokeWidth":1.3},"encoding":{"x":{"field":"h","type":"quantitative","scale":{"domain":[0,48],"nice":false,"zero":false},"axis":{"title":null,"tickCount":20,"values":[0,6,12,18,24,30,36,42,48],"labelExpr":"(datum.value % 24 < 10 ? '0' : '') + (datum.value % 24) + ':00'"}},"y":{"field":"v","type":"quantitative","scale":{"domain":[0,4],"nice":false},"axis":{"title":"Minutes spent socializing","tickCount":20,"format":"d","values":[0,1,2,3,4]}},"color":{"field":"g","type":"nominal"}}},
{"data":{"name":"so1"},"mark":{"type":"line","strokeWidth":1.3},"encoding":{"x":{"field":"h","type":"quantitative"},"y":{"field":"v","type":"quantitative"},"color":{"field":"g","type":"nominal"}}},
{"data":{"values":[{"x":9,"t":"Weekdays"},{"x":24.2,"t":"SOCIALIZING"},{"x":39,"t":"Weekends"}]},"mark":{"type":"text","fontWeight":"bold","fontSize":9.5,"dy":-3,"baseline":"alphabetic","color":"#000000"},"encoding":{"x":{"field":"x","type":"quantitative"},"y":{"datum":4,"type":"quantitative"},"text":{"field":"t"}}}
]}
]}
]},
{"bounds":"flush","spacing":48,"hconcat":[
{"width":300,"height":224,"layer":[
{"data":{"name":"gr0"},"mark":{"type":"line","strokeWidth":1.3},"encoding":{"x":{"field":"h","type":"quantitative","scale":{"domain":[0,48],"nice":false,"zero":false},"axis":{"title":null,"tickCount":20,"values":[0,6,12,18,24,30,36,42,48],"labelExpr":"(datum.value % 24 < 10 ? '0' : '') + (datum.value % 24) + ':00'"}},"y":{"field":"v","type":"quantitative","scale":{"domain":[0,5],"nice":false},"axis":{"title":"Minutes spent grooming","tickCount":20,"format":"d","values":[0,1,2,3,4,5]}},"color":{"field":"g","type":"nominal"}}},
{"data":{"name":"gr1"},"mark":{"type":"line","strokeWidth":1.3},"encoding":{"x":{"field":"h","type":"quantitative"},"y":{"field":"v","type":"quantitative"},"color":{"field":"g","type":"nominal"}}},
{"data":{"values":[{"x":9,"t":"Weekdays"},{"x":24.2,"t":"GROOMING"},{"x":39,"t":"Weekends"}]},"mark":{"type":"text","fontWeight":"bold","fontSize":9.5,"dy":-3,"baseline":"alphabetic","color":"#000000"},"encoding":{"x":{"field":"x","type":"quantitative"},"y":{"datum":5,"type":"quantitative"},"text":{"field":"t"}}}
]},
{"width":300,"height":224,"layer":[
{"data":{"name":"tv0"},"mark":{"type":"line","strokeWidth":1.3},"encoding":{"x":{"field":"h","type":"quantitative","scale":{"domain":[0,48],"nice":false,"zero":false},"axis":{"title":null,"tickCount":20,"values":[0,6,12,18,24,30,36,42,48],"labelExpr":"(datum.value % 24 < 10 ? '0' : '') + (datum.value % 24) + ':00'"}},"y":{"field":"v","type":"quantitative","scale":{"domain":[0,13],"nice":false},"axis":{"title":"Minutes spent watching TV","tickCount":20,"format":"d","values":[0,2,4,6,8,10,12]}},"color":{"field":"g","type":"nominal"}}},
{"data":{"name":"tv1"},"mark":{"type":"line","strokeWidth":1.3},"encoding":{"x":{"field":"h","type":"quantitative"},"y":{"field":"v","type":"quantitative"},"color":{"field":"g","type":"nominal"}}},
{"data":{"values":[{"x":9,"t":"Weekdays"},{"x":24.2,"t":"TV"},{"x":39,"t":"Weekends"}]},"mark":{"type":"text","fontWeight":"bold","fontSize":9.5,"dy":-3,"baseline":"alphabetic","color":"#000000"},"encoding":{"x":{"field":"x","type":"quantitative"},"y":{"datum":13,"type":"quantitative"},"text":{"field":"t"}}}
]}
]}
]
}
